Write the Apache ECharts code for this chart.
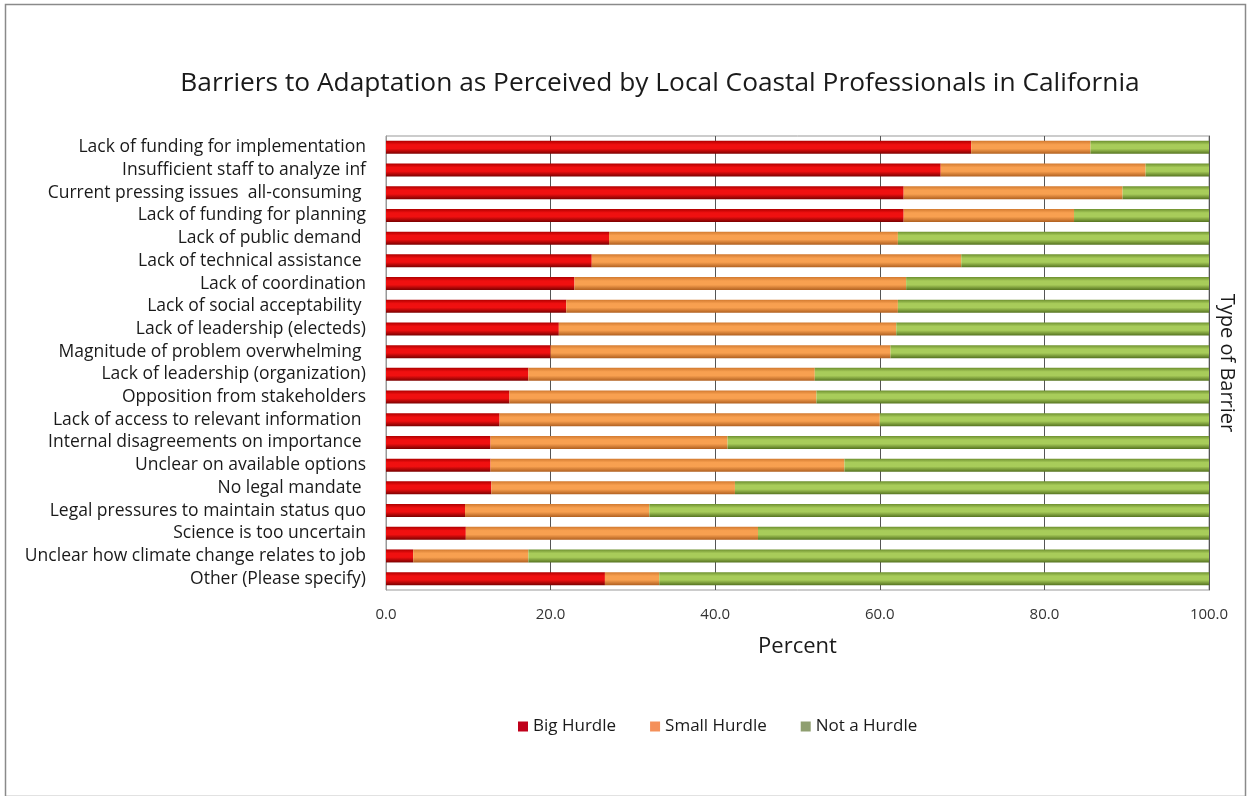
<!DOCTYPE html>
<html>
<head>
<meta charset="utf-8">
<script src="https://cdn.jsdelivr.net/npm/echarts@6/dist/echarts.min.js"></script>
<style>
html,body{margin:0;padding:0;background:#fff;}
#c{width:1247px;height:796px;}
</style>
</head>
<body>
<div id="c"></div>
<script>
const categories = [
  "Lack of funding for implementation",
  "Insufficient staff to analyze inf",
  "Current pressing issues  all-consuming ",
  "Lack of funding for planning",
  "Lack of public demand ",
  "Lack of technical assistance ",
  "Lack of coordination",
  "Lack of social acceptability ",
  "Lack of leadership (electeds)",
  "Magnitude of problem overwhelming ",
  "Lack of leadership (organization)",
  "Opposition from stakeholders",
  "Lack of access to relevant information ",
  "Internal disagreements on importance ",
  "Unclear on available options",
  "No legal mandate ",
  "Legal pressures to maintain status quo",
  "Science is too uncertain",
  "Unclear how climate change relates to job",
  "Other (Please specify)"
];
const bigHurdle   = [71.1, 67.4, 62.9, 62.9, 27.1, 25.0, 22.9, 21.9, 21.0, 20.0, 17.3, 15.0, 13.8, 12.7, 12.7, 12.8, 9.6, 9.7, 3.3, 26.6];
const smallHurdle = [14.5, 24.9, 26.6, 20.7, 35.1, 44.9, 40.3, 40.3, 41.0, 41.3, 34.8, 37.3, 46.2, 28.8, 43.0, 29.6, 22.4, 35.5, 14.0, 6.6];
const notAHurdle  = [14.4, 7.7, 10.5, 16.4, 37.8, 30.1, 36.8, 37.8, 38.0, 38.7, 47.9, 47.7, 40.0, 58.5, 44.3, 57.6, 68.0, 54.8, 82.7, 66.8];
const seriesNames = ["Big Hurdle", "Small Hurdle", "Not a Hurdle"];
const xTicks = [0, 20, 40, 60, 80, 100];

const FONT = '"Open Sans", "Liberation Sans", sans-serif';
function grad(edgeTop, mid, edgeBot) {
  return new echarts.graphic.LinearGradient(0, 0, 0, 1, [
    {offset: 0, color: edgeTop},
    {offset: 0.3, color: mid},
    {offset: 0.6, color: mid},
    {offset: 1, color: edgeBot}
  ]);
}
const styles = [
  {color: grad('#b00000', '#f01010', '#7a0000'), legend: '#c0001a'},
  {color: grad('#d27a30', '#f8a050', '#b06020'), legend: '#f4905a'},
  {color: grad('#6e9030', '#a8cc5a', '#557320'), legend: '#8f9f70'}
];
const dataSets = [bigHurdle, smallHurdle, notAHurdle];

const chart = echarts.init(document.getElementById('c'), null, {renderer: 'canvas'});
chart.setOption({
  animation: false,
  backgroundColor: '#fff',
  textStyle: {fontFamily: FONT},
  title: {
    text: 'Barriers to Adaptation as Perceived by Local Coastal Professionals in California',
    left: 655, top: 66, textAlign: 'center',
    textStyle: {fontFamily: FONT, fontSize: 26.3, fontWeight: 'normal', color: '#1a1a1a'}
  },
  legend: {
    data: seriesNames.map((n, i) => ({name: n, itemStyle: {color: styles[i].legend}})),
    left: 513, top: 713,
    icon: 'rect', itemWidth: 10, itemHeight: 10, itemGap: 34,
    textStyle: {fontFamily: FONT, fontSize: 17, color: '#1a1a1a'}
  },
  grid: {left: 386, right: 38, top: 136, bottom: 206, show: true, borderColor: '#999', borderWidth: 1, containLabel: false, outerBoundsMode: 'none'},
  xAxis: {
    type: 'value', min: 0, max: 100, interval: 20,
    name: 'Percent', nameLocation: 'middle', nameGap: 46,
    nameTextStyle: {fontFamily: FONT, fontSize: 22, color: '#1a1a1a'},
    axisLabel: {formatter: v => xTicks.includes(v) ? v.toFixed(1) : '', fontFamily: FONT, fontSize: 15, color: '#333', margin: 17},
    axisLine: {show: false}, axisTick: {show: false},
    splitLine: {show: true, lineStyle: {color: '#555', width: 1}}
  },
  yAxis: [{
    type: 'category', data: categories, inverse: true,
    axisLabel: {interval: 0, fontFamily: FONT, fontSize: 17.5, color: '#1a1a1a', margin: 20},
    axisLine: {show: true, lineStyle: {color: '#999'}}, axisTick: {show: false}
  }, {
    type: 'category', data: categories, inverse: true, position: 'right',
    name: 'Type of Barrier', nameLocation: 'middle', nameRotate: -90, nameGap: 8,
    nameTextStyle: {fontFamily: FONT, fontSize: 20, color: '#1a1a1a'},
    axisLabel: {show: false}, axisLine: {show: true, lineStyle: {color: '#555'}}, axisTick: {show: false}
  }],
  graphic: [{
    type: 'rect', left: 3, top: 2, shape: {width: 1240, height: 792},
    style: {fill: 'none', stroke: '#8a8a8a', lineWidth: 1.5}, silent: true, z: -1
  }],
  series: seriesNames.map((n, i) => ({
    name: n, type: 'bar', stack: 'all', barWidth: 13,
    data: dataSets[i],
    itemStyle: {color: styles[i].color}
  }))
});
</script>
</body>
</html>
